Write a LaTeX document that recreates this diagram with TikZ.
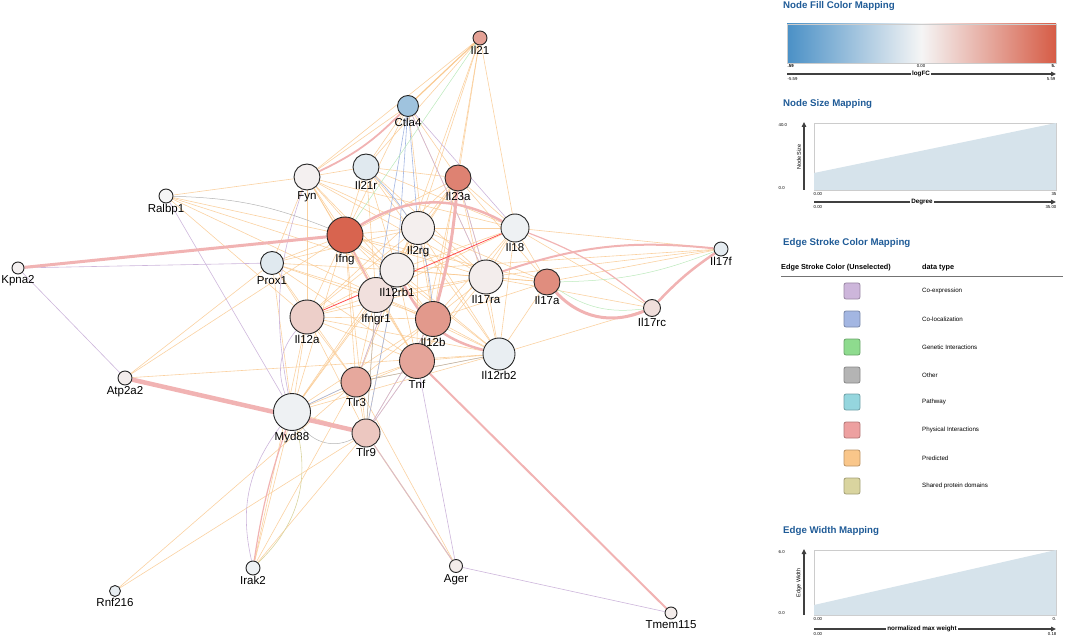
\documentclass[tikz,border=0pt]{standalone}
\usepackage{fontspec}
\setmainfont{Liberation Sans}
\usetikzlibrary{arrows.meta,backgrounds}

\definecolor{lfcdn}{HTML}{4A90C6}
\definecolor{lfcup}{HTML}{D65C46}
\definecolor{nodewhite}{HTML}{F5F5F5}
\definecolor{predc}{HTML}{F9C68A}
\definecolor{coexc}{HTML}{CDB6DB}
\definecolor{colc}{HTML}{A3B6E2}
\definecolor{genc}{HTML}{8EDB8E}
\definecolor{othc}{HTML}{B4B4B4}
\definecolor{pathc}{HTML}{95D6DE}
\definecolor{physc}{HTML}{EDA0A0}
\definecolor{shrc}{HTML}{D9D49F}
\definecolor{ttlc}{HTML}{1F5B97}
\definecolor{rampc}{HTML}{D6E3EB}

\tikzset{
  gene/.style={circle,draw=black!85,line width=0.9pt,inner sep=0pt,label distance=0.5pt},
  lbl/.style={font=\fontsize{11.5}{12}\selectfont,inner sep=1pt},
  pred/.style={predc,line width=0.6pt,draw opacity=0.8},
  coexp/.style={coexc,line width=0.6pt},
  coloc/.style={colc,line width=0.6pt},
  phys/.style={physc!80!white,line width=1.2pt},
  othr/.style={othc,line width=0.5pt},
  genet/.style={genc!60!white,line width=0.5pt},
  shrd/.style={shrc,line width=0.6pt},
  ttl/.style={anchor=west,text=ttlc,font=\bfseries\fontsize{9.7}{11}\selectfont,inner sep=0pt},
  tick/.style={font=\fontsize{4.3}{5}\selectfont,inner sep=0.5pt},
  axlbl/.style={font=\bfseries\fontsize{6.3}{7}\selectfont,fill=white,inner sep=1.5pt},
  axline/.style={black!75,line width=1.1pt,-{Triangle[length=5pt,width=4.5pt]}},
  swatch/.style={rounded corners=2pt,line width=0.8pt,minimum size=16pt,inner sep=0pt},
  swlbl/.style={anchor=west,font=\fontsize{6.2}{7}\selectfont,inner sep=0pt}
}

\begin{document}
\begin{tikzpicture}[x=1pt,y=-1pt]
  \useasboundingbox (0,0) rectangle (1065,636);

  % genes
  \node[gene,minimum size=14,fill=lfcup!55!nodewhite,label={[lbl]below:Il21}] (il21) at (480,38) {};
  \node[gene,minimum size=21,fill=lfcdn!50!nodewhite,label={[lbl]below:Ctla4}] (ctla4) at (408,106) {};
  \node[gene,minimum size=26,fill=lfcup!3!nodewhite,label={[lbl]below:Fyn}] (fyn) at (307,177) {};
  \node[gene,minimum size=26,fill=lfcdn!12!nodewhite,label={[lbl]below:Il21r}] (il21r) at (366,167) {};
  \node[gene,minimum size=26,fill=lfcup!75!nodewhite,label={[lbl]below:Il23a}] (il23a) at (458,178) {};
  \node[gene,minimum size=14,fill=nodewhite,label={[lbl]below:Ralbp1}] (ralbp1) at (166,196) {};
  \node[gene,minimum size=36,fill=lfcup!95!nodewhite,label={[lbl]below:Ifng}] (ifng) at (345,235) {};
  \node[gene,minimum size=33,fill=lfcup!4!nodewhite,label={[lbl]below:Il2rg}] (il2rg) at (418,228) {};
  \node[gene,minimum size=28,fill=lfcdn!4!nodewhite,label={[lbl]below:Il18}] (il18) at (515,228) {};
  \node[gene,minimum size=14,fill=lfcdn!10!nodewhite,label={[lbl]below:Il17f}] (il17f) at (721,249) {};
  \node[gene,minimum size=12,fill=lfcup!3!nodewhite,label={[lbl]below:Kpna2}] (kpna2) at (18,268) {};
  \node[gene,minimum size=23,fill=lfcdn!12!nodewhite,label={[lbl]below:Prox1}] (prox1) at (272,263) {};
  \node[gene,minimum size=34,fill=lfcup!5!nodewhite,label={[lbl]below:Il17ra}] (il17ra) at (486,277) {};
  \node[gene,minimum size=26,fill=lfcup!68!nodewhite,label={[lbl]below:Il17a}] (il17a) at (547,282) {};
  \node[gene,minimum size=17,fill=lfcup!15!nodewhite,label={[lbl]below:Il17rc}] (il17rc) at (652,308) {};
  \node[gene,minimum size=35,fill=lfcup!14!nodewhite,label={[lbl]below:Ifngr1}] (ifngr1) at (376,295) {};
  \node[gene,minimum size=34,fill=lfcup!4!nodewhite,label={[lbl]below:Il12rb1}] (il12rb1) at (397,270) {};
  \node[gene,minimum size=34,fill=lfcup!25!nodewhite,label={[lbl]below:Il12a}] (il12a) at (307,317) {};
  \node[gene,minimum size=35,fill=lfcup!60!nodewhite,label={[lbl]below:Il12b}] (il12b) at (433,319) {};
  \node[gene,minimum size=32,fill=lfcdn!7!nodewhite,label={[lbl]below:Il12rb2}] (il12rb2) at (499,354) {};
  \node[gene,minimum size=35,fill=lfcup!52!nodewhite,label={[lbl]below:Tnf}] (tnf) at (417,361) {};
  \node[gene,minimum size=30,fill=lfcup!50!nodewhite,label={[lbl]below:Tlr3}] (tlr3) at (356,382) {};
  \node[gene,minimum size=14,fill=lfcup!5!nodewhite,label={[lbl]below:Atp2a2}] (atp2a2) at (125,378) {};
  \node[gene,minimum size=37,fill=lfcdn!4!nodewhite,label={[lbl]below:Myd88}] (myd88) at (292,412) {};
  \node[gene,minimum size=28,fill=lfcup!30!nodewhite,label={[lbl]below:Tlr9}] (tlr9) at (366,433) {};
  \node[gene,minimum size=14,fill=lfcdn!4!nodewhite,label={[lbl]below:Irak2}] (irak2) at (253,568) {};
  \node[gene,minimum size=13,fill=lfcup!6!nodewhite,label={[lbl]below:Ager}] (ager) at (456,566) {};
  \node[gene,minimum size=11,fill=lfcdn!8!nodewhite,label={[lbl]below:Rnf216}] (rnf216) at (115,591) {};
  \node[gene,minimum size=12,fill=lfcup!6!nodewhite,label={[lbl]below:Tmem115}] (tmem115) at (671,613) {};

  \begin{scope}[on background layer]
  % predicted
  \path[pred] (il21) edge (ctla4) (il21) edge (fyn) (il21) edge (il21r) (il21) edge (il23a)
              (il21) edge (il12b) (il21) edge (il18) (il21) edge (il2rg) (il21) edge (il12rb1)
              (ctla4) edge (fyn) (ctla4) edge (il21r) (ctla4) edge (ifng) (ctla4) edge (il23a)
              (ctla4) edge (il12b) (ctla4) edge (il17ra)
              (fyn) edge (ralbp1) (fyn) edge (ifng) (fyn) edge (il2rg) (fyn) edge (il12rb1)
              (fyn) edge (ifngr1) (fyn) edge (il12a) (fyn) edge (il18) (fyn) edge (il17ra)
              (fyn) edge (prox1) (fyn) edge (tnf) (fyn) edge (il12b) (fyn) edge (il21r)
              (il21r) edge (ifng) (il21r) edge (il2rg) (il21r) edge (il12rb1) (il21r) edge (il18)
              (il21r) edge (il23a) (il21r) edge (ifngr1) (il21r) edge (il12rb2) (il21r) edge (il17ra)
              (il23a) edge (ifng) (il23a) edge (il2rg) (il23a) edge (il12rb1) (il23a) edge (il18)
              (il23a) edge (il17ra) (il23a) edge (il12rb2) (il23a) edge (tnf) (il23a) edge (il17a)
              (il23a) edge (ifngr1) (il23a) edge (il12a)
              (ralbp1) edge (ifng) (ralbp1) edge (il12rb1) (ralbp1) edge (ifngr1) (ralbp1) edge (il12a)
              (prox1) edge (ifng) (prox1) edge (il12a) (prox1) edge (il12rb1) (prox1) edge (ifngr1)
              (prox1) edge (il2rg) (prox1) edge (il12b) (prox1) edge (tlr3) (prox1) edge (tnf)
              (prox1) edge (myd88)
              (atp2a2) edge (prox1) (atp2a2) edge (ifng) (atp2a2) edge (il12rb2);
  \path[pred] (ifng) edge (il2rg) (ifng) edge (il12rb1) (ifng) edge (ifngr1) (ifng) edge (il12a)
              (ifng) edge (il12b) (ifng) edge (tnf) (ifng) edge (il12rb2) (ifng) edge (il17ra)
              (ifng) edge (tlr3) (ifng) edge (myd88) (ifng) edge (tlr9) (ifng) edge (il17a)
              (il2rg) edge (il12rb1) (il2rg) edge (ifngr1) (il2rg) edge (il12a) (il2rg) edge (il12b)
              (il2rg) edge (tnf) (il2rg) edge (il12rb2) (il2rg) edge (il17ra) (il2rg) edge (il18)
              (il2rg) edge (il17a) (il2rg) edge (tlr3) (il2rg) edge (myd88)
              (il12rb1) edge (ifngr1) (il12rb1) edge (il12a) (il12rb1) edge (il12b) (il12rb1) edge (tnf)
              (il12rb1) edge (il12rb2) (il12rb1) edge (il17ra) (il12rb1) edge (il18) (il12rb1) edge (il17a)
              (il12rb1) edge (tlr3) (il12rb1) edge (myd88) (il12rb1) edge (tlr9) (il12rb1) edge (il17f)
              (ifngr1) edge (il12a) (ifngr1) edge (il12b) (ifngr1) edge (tnf) (ifngr1) edge (il12rb2)
              (ifngr1) edge (il17ra) (ifngr1) edge (il18) (ifngr1) edge (tlr3) (ifngr1) edge (myd88)
              (ifngr1) edge (tlr9)
              (il12a) edge (il12b) (il12a) edge (tnf) (il12a) edge (il12rb2) (il12a) edge (il17ra)
              (il12a) edge (tlr3) (il12a) edge (myd88) (il12a) edge (tlr9)
              (il12b) edge (tnf) (il12b) edge (il12rb2) (il12b) edge (il17ra) (il12b) edge (il18)
              (il12b) edge (il17a) (il12b) edge (tlr3) (il12b) edge (myd88) (il12b) edge (tlr9)
              (tnf) edge (il12rb2) (tnf) edge (il17ra) (tnf) edge (il18) (tnf) edge (tlr3)
              (tnf) edge (myd88) (tnf) edge (tlr9)
              (il12rb2) edge (il17ra) (il12rb2) edge (il18) (il12rb2) edge (il17a) (il12rb2) edge (tlr3)
              (il12rb2) edge (myd88) (il12rb2) edge (il17rc)
              (il17ra) edge (il18) (il17ra) edge (il17a) (il17ra) edge (il17f) (il17ra) edge (il17rc)
              (il18) edge (il17a) (il18) edge (il17f) (il18) edge (il17rc) (il17a) edge (il17f)
              (tlr3) edge (myd88) (tlr3) edge (tlr9) (myd88) edge (tlr9)
              (rnf216) edge (tlr3) (rnf216) edge (tlr9)
              (irak2) edge (myd88) (irak2) edge (tlr3) (irak2) edge (tlr9) (irak2) edge (il12a)
              (ager) edge (tlr3);
  \path[pred,line width=1.2pt] (ager) edge (tlr9) (il21) edge (ctla4);
  % co-expression
  \path[coexp] (ralbp1) edge (myd88) (kpna2) edge (prox1) (kpna2) edge (atp2a2)
               (ctla4) edge (il18) (ctla4) edge (il17ra) (il23a) edge (il17ra)
               (fyn) edge[bend right=15] (myd88) (il12a) edge[bend right=30] (myd88)
               (irak2) edge[bend left=25] (myd88) (ager) edge (tnf) (ager) edge (tmem115)
               (ager) edge (tlr9) (tlr9) edge (il12b) (tlr9) edge (tnf) (tlr3) edge (il12rb1);
  % co-localization
  \path[coloc] (ctla4) edge (il2rg) (ctla4) edge (il12rb1) (ctla4) edge (ifngr1)
               (il21r) edge[bend left=20] (il12b) (myd88) edge (tlr3) (tlr9) edge (il12rb1);
  % other
  \path[othr] (ralbp1) edge[bend left=10] (ifng) (myd88) edge[bend right=40] (tlr9)
              (tlr3) edge (il12rb2) (tlr9) edge (ifngr1);
  % genetic / shared domains
  \path[genet] (il17f) edge[bend left=10] (il17a) (il17a) edge[bend right=20] (il17rc) (il21) edge (ifng);
  \path[shrd] (irak2) edge[bend right=30] (myd88);
  % physical
  \path[phys] (kpna2) edge[line width=3pt] (ifng)
              (atp2a2) edge[line width=4.5pt] (tlr9)
              (tnf) edge[line width=2pt] (tmem115)
              (ifng) edge[line width=2.5pt,bend left=30] (il18)
              (fyn) edge[line width=1.8pt,bend right=10] (ctla4)
              (il23a) edge[line width=3pt,bend left=5] (il12b)
              (il12rb1) edge[line width=2.5pt,bend right=25] (il12rb2)
              (ifng) edge[line width=1.5pt] (ifngr1)
              (il17f) edge[line width=2pt,bend right=12] (il17ra)
              (il17a) edge[line width=3pt,bend right=35] (il17rc)
              (il17rc) edge[line width=2.5pt,bend left=6] (il17f)
              (il18) edge[bend left=10] (il17rc)
              (irak2) edge[bend left=5] (myd88);
  \path[red!70,line width=0.8pt] (il12a) edge (il18);
  \end{scope}

  % node fill colour legend
  \node[ttl] (t_fill) at (783,6) {Node Fill Color Mapping};
  \node[draw=black!20,line width=0.5pt,minimum width=269,minimum height=39,inner sep=0pt,
        left color=lfcdn,right color=lfcup,middle color=nodewhite] (fbar) at (921.5,43.5) {};
  \node[tick,anchor=north west] (f_lo) at (787,64) {\bfseries .59};
  \node[tick,anchor=north] (f_mid) at (921,64) {0.00};
  \node[tick,anchor=north east] (f_hi) at (1056,64) {\bfseries 5.};
  \draw[axline] (787,74) -- (1056,74);
  \node[axlbl] (f_ax) at (921,74) {logFC};
  \node[tick,anchor=north west] (f_alo) at (787,77) {-5.59};
  \node[tick,anchor=north east] (f_ahi) at (1056,77) {5.59};

  % node size legend
  \node[ttl] (t_size) at (783,104) {Node Size Mapping};
  \draw[black!20,line width=0.6pt] (814,123) rectangle (1056,190);
  \fill[rampc] (814,190) -- (814,173) -- (1056,123) -- (1056,190) -- cycle;
  \draw[axline] (804,190) -- (804,122);
  \node[tick,anchor=west] (s_ytop) at (778,125) {40.0};
  \node[tick,anchor=west] (s_ybot) at (778,188) {0.0};
  \node[font=\fontsize{5.5}{6}\selectfont,rotate=90,inner sep=0pt] (s_ylab) at (799,157) {Node Size};
  \node[tick,anchor=north west] (s_xlo) at (813,192) {0.00};
  \node[tick,anchor=north east] (s_xhi) at (1057,192) {35};
  \draw[axline] (814,202) -- (1056,202);
  \node[axlbl] (s_ax) at (922,202) {Degree};
  \node[tick,anchor=north west] (s_alo) at (813,205) {0.00};
  \node[tick,anchor=north east] (s_ahi) at (1057,205) {35.00};

  % edge stroke colour legend
  \node[ttl] (t_stroke) at (783,243) {Edge Stroke Color Mapping};
  \node[anchor=west,font=\bfseries\fontsize{7.3}{8}\selectfont,inner sep=0pt] (h_col) at (781,268) {Edge Stroke Color (Unselected)};
  \node[anchor=west,font=\bfseries\fontsize{7.3}{8}\selectfont,inner sep=0pt] (h_type) at (922,268) {data type};
  \draw[black!55,line width=1pt] (781,277) -- (1063,277);
  \node[swatch,fill=coexc,draw=coexc!75!black] (sw1) at (852,291) {};
  \node[swlbl] (sl1) at (922,291) {Co-expression};
  \node[swatch,fill=colc,draw=colc!75!black] (sw2) at (852,319) {};
  \node[swlbl] (sl2) at (922,319) {Co-localization};
  \node[swatch,fill=genc,draw=genc!75!black] (sw3) at (852,347) {};
  \node[swlbl] (sl3) at (922,347) {Genetic Interactions};
  \node[swatch,fill=othc,draw=othc!75!black] (sw4) at (852,375) {};
  \node[swlbl] (sl4) at (922,375) {Other};
  \node[swatch,fill=pathc,draw=pathc!75!black] (sw5) at (852,402) {};
  \node[swlbl] (sl5) at (922,402) {Pathway};
  \node[swatch,fill=physc,draw=physc!75!black] (sw6) at (852,430) {};
  \node[swlbl] (sl6) at (922,430) {Physical Interactions};
  \node[swatch,fill=predc,draw=predc!75!black] (sw7) at (852,458) {};
  \node[swlbl] (sl7) at (922,458) {Predicted};
  \node[swatch,fill=shrc,draw=shrc!75!black] (sw8) at (852,486) {};
  \node[swlbl] (sl8) at (922,486) {Shared protein domains};

  % edge width legend
  \node[ttl] (t_width) at (783,531) {Edge Width Mapping};
  \draw[black!20,line width=0.6pt] (814,550) rectangle (1056,615);
  \fill[rampc] (814,615) -- (814,605) -- (1056,550) -- (1056,615) -- cycle;
  \draw[axline] (804,615) -- (804,549);
  \node[tick,anchor=west] (w_ytop) at (778,552) {6.0};
  \node[tick,anchor=west] (w_ybot) at (778,613) {0.0};
  \node[font=\fontsize{5.5}{6}\selectfont,rotate=90,inner sep=0pt] (w_ylab) at (799,583) {Edge Width};
  \node[tick,anchor=north west] (w_xlo) at (813,617) {0.00};
  \node[tick,anchor=north east] (w_xhi) at (1057,617) {0.};
  \draw[axline] (814,629) -- (1056,629);
  \node[axlbl] (w_ax) at (922,629) {normalized max weight};
  \node[tick,anchor=north west] (w_alo) at (813,632) {0.00};
  \node[tick,anchor=north east] (w_ahi) at (1057,632) {0.18};
\end{tikzpicture}
\end{document}
